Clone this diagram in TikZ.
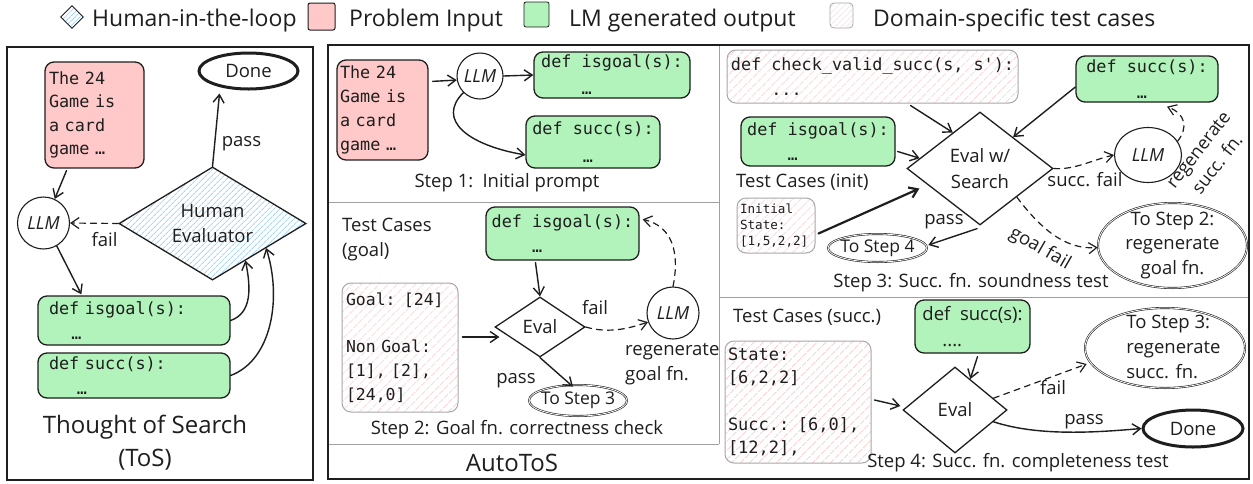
\documentclass[tikz,border=0pt]{standalone}
\usepackage{fontspec}
\setmainfont{Open Sans}
\setmonofont{DejaVu Sans Mono}
\usetikzlibrary{shapes.geometric,arrows.meta,patterns.meta,calc}

\definecolor{ink}{HTML}{1E1E1E}
\definecolor{problemfill}{HTML}{FFC9C9}
\definecolor{outputfill}{HTML}{B2F2BB}
\definecolor{humanhatch}{HTML}{A5D8FF}
\definecolor{casehatch}{HTML}{FFD0D0}
\definecolor{caseborder}{HTML}{A8A8A8}
\definecolor{panelgray}{HTML}{A0A0A0}

\newcommand\labfont{\fontsize{18.5}{25}\selectfont}
\newcommand\jumpfont{\fontsize{17.5}{24}\selectfont}
\newcommand\legfont{\fontsize{23}{28}\selectfont}
\newcommand\titlefont{\fontsize{24}{33}\selectfont}
\newcommand\llmfont{\fontsize{18}{20}\selectfont\itshape}
\newcommand\codefont{\fontsize{16.8}{25.5}\selectfont\ttfamily}
\newcommand\gamefont{\fontsize{16.8}{23.5}\selectfont\ttfamily}
\newcommand\casefont{\fontsize{16.5}{23.7}\selectfont\ttfamily}
\newcommand\statefont{\fontsize{17}{23.3}\selectfont\ttfamily}
\newcommand\initfont{\fontsize{12.6}{16}\selectfont\ttfamily}

\begin{document}
\begin{tikzpicture}[x=1pt, y=-1pt,
  every node/.style={text=ink},
  lab/.style={font=\labfont, inner sep=0pt, text height=13.3pt, text depth=4pt},
  multi/.style={font=\labfont, inner sep=0pt},
  legtext/.style={font=\legfont, inner sep=0pt},
  codebox/.style={draw=ink, line width=1.3pt, rounded corners=9pt, inner sep=0pt, align=left, font=\codefont},
  outbox/.style={codebox, fill=outputfill},
  inbox/.style={codebox, fill=problemfill, font=\gamefont},
  casebox/.style={codebox, draw=caseborder, line width=1pt,
    pattern={Lines[angle=45,distance=6.5pt,line width=0.9pt]}, pattern color=casehatch},
  llm/.style={ellipse, draw=ink, line width=1.1pt, inner sep=-3pt, font=\llmfont},
  test/.style={diamond, draw=ink, line width=1.3pt, inner sep=0pt, align=center, font=\labfont},
  term/.style={ellipse, draw=ink, inner sep=0pt},
  done/.style={term, line width=3pt, font=\labfont},
  jump/.style={term, line width=0.6pt, double=white, double distance=0.8pt},
  jumptext/.style={font=\jumpfont, inner sep=0pt, text height=12.6pt, text depth=3.8pt},
  arr/.style={draw=ink, line width=1.4pt, line cap=round, line join=round,
    -{Straight Barb[length=8pt,width=11pt]}},
  dsh/.style={arr, line width=1.2pt, dash pattern=on 6pt off 5pt}]

\useasboundingbox (0,0) rectangle (1253,483);
\fill[white] (0,0) rectangle (1253,483);

% ---------- legend ----------
\node[test, line width=0.9pt, minimum width=23, minimum height=23,
  pattern={Lines[angle=45,distance=3.5pt,line width=0.8pt]}, pattern color=humanhatch] (keyH) at (72,17) {};
\node[legtext, anchor=base west] (keyHt) at (92,26) {Human-in-the-loop};
\node[draw=ink, fill=problemfill, line width=1pt, minimum width=27, minimum height=27, rounded corners=2pt] (keyP) at (321.5,16.5) {};
\node[legtext, anchor=base west] (keyPt) at (349,26) {Problem Input};
\node[draw=ink, fill=outputfill, line width=0.8pt, minimum width=25, minimum height=25, rounded corners=2pt] (keyG) at (536.5,14.5) {};
\node[legtext, anchor=base west] (keyGt) at (569,26) {LM generated output};
\node[draw=caseborder, line width=0.8pt, minimum width=23, minimum height=25, rounded corners=4pt,
  pattern={Lines[angle=45,distance=4pt,line width=0.6pt]}, pattern color=casehatch] (keyC) at (841.5,15.5) {};
\node[legtext, anchor=base west] (keyCt) at (873,26) {Domain-specific test cases};

% ---------- panel frames ----------
\draw[panelgray, line width=1pt] (328,202) -- (719,202) (719,45) -- (719,444) (328,444) -- (719,444)
  (720,297) -- (1249,297);
\draw[ink, line width=2.5pt] (7,47) rectangle (313,480);
\draw[ink, line width=2.5pt] (328,45) rectangle (1249,479);

% ---------- Thought of Search ----------
\node[inbox, minimum width=99, minimum height=106, text width=91, inner xsep=4pt] (Lin) at (94.5,115) {The 24\\Game is\\a card\\game …};
\node[done, minimum width=99, minimum height=36] (Ldone) at (248.5,71) {Done};
\node[test, minimum width=187, minimum height=113, shape aspect=1.65,
  pattern={Lines[angle=45,distance=4pt,line width=0.9pt]}, pattern color=humanhatch] (HE) at (212.5,223.5) {Human\\Evaluator};
\node[llm, minimum width=52, minimum height=52] (Lllm) at (43.5,223) {LLM};
\node[outbox, minimum width=192, minimum height=49, text width=170, inner xsep=11pt] (Lgoal) at (134,320.5) {def isgoal(s):\\\ \ \ \ …};
\node[outbox, minimum width=192, minimum height=45, text width=170, inner xsep=11pt] (Lsucc) at (134,375.5) {def succ(s):\\\ \ \ \ \ …};
\node[lab] (Lpass) at (241.5,142) {pass};
\node[lab] (Lfail) at (104.5,242) {fail};
\node[multi, font=\titlefont, align=center] (ToS) at (145,443) {Thought of Search\\(ToS)};

\draw[arr] ($(Lin.south)+(-28,2)$) -- (Lllm.65);
\draw[dsh] (HE.west) -- (Lllm.east);
\draw[arr] (Lllm.-60) -- ($(Lgoal.north west)+(44,-1)$);
\draw[arr] (Lgoal.east) .. controls (252,313) and (251,288) .. ($(HE.south)!0.35!(HE.east)$);
\draw[arr] (Lsucc.east) .. controls (272,360) and (282,298) .. ($(HE.south)!0.57!(HE.east)$);
\draw[arr] (HE.north) -- ($(Ldone.south)+(-29,3)$);

% ---------- Step 1 ----------
\node[inbox, minimum width=91, minimum height=100, text width=85, inner xsep=3pt,
  font=\fontsize{16.8}{24}\selectfont\ttfamily] (S1in) at (382.5,110) {The 24\\Game is\\a card\\game …};
\node[llm, minimum width=46, minimum height=46] (S1llm) at (480,76) {LLM};
\node[outbox, minimum width=156, minimum height=46, font=\fontsize{16.8}{27}\selectfont\ttfamily] (S1goal) at (612,75) {def isgoal(s):\\\ \ \ \ …};
\node[outbox, minimum width=134, minimum height=52, font=\fontsize{16.8}{28}\selectfont\ttfamily] (S1succ) at (593,142) {def succ(s):\\\ \ \ \ \ …};
\node[multi] (S1cap) at (507,183) {Step 1:\enspace Initial prompt};

\draw[arr] ($(S1in.north east)+(4,22)$) -- (S1llm.190);
\draw[arr] (S1llm.east) -- (S1goal.west);
\draw[arr] (S1llm.225) .. controls (436,120) and (468,145) .. ($(S1succ.west)+(0,13)$);

% ---------- Step 2 ----------
\node[multi, align=left, anchor=west] (S2tc) at (342,240) {Test Cases\\(goal)};
\node[outbox, minimum width=153, minimum height=53] (S2goal) at (562.5,233.5) {def isgoal(s):\\\ \ \ \ …};
\node[casebox, font=\casefont, minimum width=116, minimum height=129, text width=108, inner xsep=4pt] (S2case) at (400,347.5)
  {Goal: [24]\\[23.7pt]Non Goal:\\{}[1], [2],\\{}[24,0]};
\node[test, minimum width=90, minimum height=60] (S2ev) at (540,327) {Eval};
\node[llm, minimum width=52, minimum height=52] (S2llm) at (673,313) {LLM};
\node[jump, minimum width=98, minimum height=31] (S2to3) at (578,400.5) {};
\node[jumptext] (S2to3t) at (S2to3) {To Step 3};
\node[lab] (S2fail) at (595,310) {fail};
\node[lab] (S2pass) at (516,379) {pass};
\node[multi, align=left, anchor=west] (S2regen) at (625,364) {regenerate\\goal fn.};
\node[multi] (S2cap) at (517,430) {Step 2: Goal fn. correctness check};
\node[multi, font=\titlefont] (autotos) at (512,463) {AutoToS};

\draw[arr] ($(S2case.east)+(4,-10.5)$) -- ($(S2ev.west)+(5,10)$);
\draw[arr] ($(S2goal.south)+(-27,2)$) -- (S2ev.north);
\draw[dsh] (S2ev.east) .. controls (610,334) and (630,328) .. (S2llm.200);
\draw[dsh] (S2llm.north) .. controls (680,252) and (672,226) .. ($(S2goal.north east)+(3,13)$);
\draw[arr] (S2ev.south) -- ($(S2to3.north)+(-5,2)$);

% ---------- Step 3 ----------
\node[casebox, minimum width=291, minimum height=53] (S3chk) at (872.5,76.5) {def check\_valid\_succ(s, s\textquotesingle):\\\ \ \ \ ...};
\node[outbox, minimum width=142, minimum height=46] (S3succ) at (1147,79) {def succ(s):\\\ \ \ \ \ …};
\node[outbox, minimum width=154, minimum height=49] (S3goal) at (818,141.5) {def isgoal(s):\\\ \ \ \ …};
\node[test, minimum width=146, minimum height=113, font=\fontsize{18.5}{26}\selectfont] (S3ev) at (980,168.5) {Eval w/\\Search};
\node[lab, anchor=west] (S3tc) at (736,183) {Test Cases (init)};
\node[casebox, font=\initfont, minimum width=78, minimum height=55, text width=72, inner xsep=3pt] (S3init) at (776,225.5) {Initial\\State:\\{}[1,5,2,2]};
\node[llm, minimum width=67, minimum height=55] (S3llm) at (1148,155) {LLM};
\node[jump, minimum width=99, minimum height=28] (S3to4) at (877.5,248) {};
\node[jumptext] (S3to4t) at (S3to4) {To Step 4};
\node[jump, minimum width=149, minimum height=85] (S3to2) at (1172.5,245.5) {};
\node[multi, align=center, font=\fontsize{18.5}{24.5}\selectfont] (S3to2t) at (S3to2) {To Step 2:\\regenerate\\goal fn.};
\node[lab] (S3pass) at (944,220) {pass};
\node[lab] (S3sfail) at (1085,182) {succ. fail};
\node[multi, align=center, rotate=52, font=\fontsize{18}{24}\selectfont] (S3regen) at (1208,157) {regenerate\\succ. fn.};
\node[lab, rotate=-30] (S3gfail) at (1040,249) {goal fail};
\node[multi] (S3cap) at (971,283) {Step 3: Succ. fn. soundness test};

\draw[arr] ($(S3chk.south)+(38,2)$) -- ($(S3ev.north)!0.37!(S3ev.west)$);
\draw[arr] ($(S3succ.west)+(0,8)$) -- ($(S3ev.north)!0.45!(S3ev.east)$);
\draw[arr] ($(S3goal.east)+(2,10)$) -- ($(S3ev.west)!0.18!(S3ev.north)$);
\draw[arr, line width=2.2pt] ($(S3init.east)+(3,8)$) -- ($(S3ev.west)+(13,20)$);
\draw[arr] ($(S3ev.south)+(-3,3)$) -- ($(S3to4.east)+(1,-3)$);
\draw[dsh] (S3ev.east) .. controls (1075,170) and (1092,160) .. (S3llm.west);
\draw[dsh] (S3llm.25) .. controls (1188,128) and (1186,114) .. ($(S3succ.south)+(20,4)$);
\draw[dsh] ($(S3ev.south)!0.5!(S3ev.east)$) .. controls (1040,228) and (1065,250) .. ($(S3to2.west)+(0,2)$);

% ---------- Step 4 ----------
\node[lab, anchor=west] (S4tc) at (733,318) {Test Cases (succ.)};
\node[casebox, font=\statefont, minimum width=146, minimum height=122, text width=140, inner xsep=3pt] (S4case) at (798,402)
  {State:\\{}[6,2,2]\\[23.3pt]Succ.: [6,0],\\{}[12,2],};
\node[outbox, font=\fontsize{18.5}{26}\selectfont, minimum width=115, minimum height=53] (S4succ) at (972.5,326.5) {def\ \ succ(s):\\\hspace*{20pt}....};
\node[test, minimum width=104, minimum height=86] (S4ev) at (955,410) {Eval};
\node[jump, minimum width=160, minimum height=80] (S4to3) at (1165,348) {};
\node[multi, align=left, font=\fontsize{18.5}{25}\selectfont] (S4to3t) at (1173.5,347) {To Step 3:\\regenerate\\succ. fn.};
\node[done, minimum width=100, minimum height=37] (S4done) at (1193,428.5) {Done};
\node[lab] (S4fail) at (1053,390) {fail};
\node[lab] (S4pass) at (1084,420) {pass};
\node[multi] (S4cap) at (1018,463) {Step 4: Succ. fn. completeness test};

\draw[arr] ($(S4case.east)+(3,-2)$) -- ($(S4ev.west)+(-2,-4)$);
\draw[arr] ($(S4succ.south)+(5,3)$) -- ($(S4ev.north)!0.29!(S4ev.east)$);
\draw[dsh] ($(S4ev.north)!0.73!(S4ev.east)$) -- ($(S4to3.west)+(2,16)$);
\draw[arr] ($(S4ev.south)!0.73!(S4ev.east)$) .. controls (1040,437) and (1100,432) .. (S4done.west);

\end{tikzpicture}
\end{document}
